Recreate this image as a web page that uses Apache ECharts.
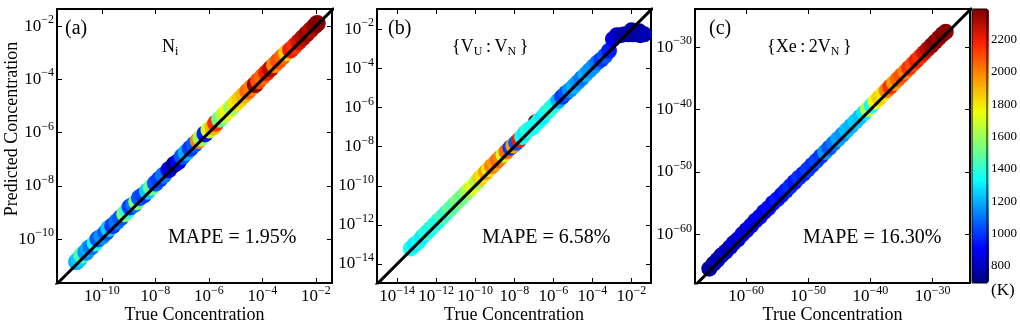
<!DOCTYPE html>
<html>
<head>
<meta charset="utf-8">
<script src="https://cdn.jsdelivr.net/npm/echarts@6.0.0/dist/echarts.min.js"></script>
<style>
  html, body { margin: 0; padding: 0; background: #fff; }
  #chart { width: 1020px; height: 324px; }
</style>
</head>
<body>
<div id="chart"></div>
<script>
// log10 of concentrations; temperature in K

// (a) N_i
const aTrue = [-10.95, -10.85, -10.75, -10.6, -10.5, -10.4, -10.25, -10.15, -10.0, -9.85, -9.75, -9.6, -9.45, -9.3,
  -9.15, -9.05, -8.95, -8.8, -8.7, -8.6, -8.45, -8.3, -8.15, -8.0, -7.85, -7.7, -7.5, -7.3, -7.15, -7.0, -6.85,
  -6.7, -6.55, -6.4, -6.3, -6.15, -6.0, -5.85, -5.75, -5.6, -5.45, -5.3, -5.15, -5.0, -4.85, -4.7, -4.55, -4.4,
  -4.27, -4.15, -4.0, -3.85, -3.7, -3.55, -3.4, -3.25, -3.1, -2.95, -2.8, -2.65, -2.5, -2.35, -2.2, -2.05, -1.95];
const aPred = [-10.85, -10.75, -10.6, -10.5, -10.35, -10.3, -10.15, -10.0, -9.9, -9.75, -9.6, -9.5, -9.35, -9.2,
  -9.05, -8.95, -8.8, -8.7, -8.6, -8.45, -8.35, -8.2, -8.05, -7.9, -7.75, -7.6, -7.4, -7.2, -7.1, -6.9, -6.75,
  -6.6, -6.45, -6.3, -6.2, -6.05, -5.9, -5.8, -5.65, -5.5, -5.35, -5.2, -5.05, -4.9, -4.75, -4.6, -4.45, -4.3,
  -4.2, -4.05, -3.9, -3.75, -3.6, -3.45, -3.3, -3.15, -3.0, -2.9, -2.75, -2.6, -2.45, -2.3, -2.15, -2.0, -1.9];
const aTemp = [1200, 1250, 1450, 1150, 1200, 1100, 1350, 1050, 1150, 1050, 1250, 1000, 1100, 1050,
  1550, 1400, 1000, 1100, 1550, 1050, 1000, 1250, 1500, 1050, 1000, 1100, 850, 720, 900, 1050, 1200,
  1000, 1050, 2000, 1600, 950, 1700, 1900, 2150, 1500, 1650, 1750, 1600, 1800, 1850, 1900, 2050, 2000,
  2350, 2100, 2050, 2200, 2300, 2000, 2100, 2050, 1850, 2200, 2150, 2250, 2300, 2350, 2300, 2350, 2380];

// (b) {V_U:V_N}
const bTrue = [-13.3, -13.1, -12.9, -12.7, -12.5, -12.3, -12.1, -11.9, -11.7, -11.5, -11.3, -11.1, -10.9, -10.7,
  -10.5, -10.3, -10.1, -9.9, -9.75, -9.6, -9.45, -9.3, -9.15, -9.0, -8.85, -8.7, -8.55, -8.4, -8.2, -8.05, -7.9,
  -7.75, -7.6, -7.45, -7.3, -7.1, -6.9, -7.0, -6.75, -6.55, -6.35, -6.15, -5.95, -5.75, -5.55, -5.35, -5.15,
  -4.95, -4.75, -4.55, -4.35, -4.15, -3.95, -3.75, -3.55, -3.35, -3.15, -2.95, -2.75, -2.55, -2.35, -2.15,
  -2.0, -1.95, -1.75, -1.6, -1.55, -1.35];
const bPred = [-13.2, -13.0, -12.85, -12.6, -12.4, -12.2, -12.0, -11.8, -11.6, -11.4, -11.2, -11.0, -10.8, -10.6,
  -10.4, -10.2, -10.0, -9.8, -9.6, -9.45, -9.3, -9.15, -9.0, -8.85, -8.7, -8.55, -8.4, -8.25, -8.05, -7.95, -7.8,
  -7.65, -7.5, -7.3, -7.15, -7.05, -6.75, -6.95, -6.7, -6.5, -6.25, -6.05, -5.85, -5.65, -5.45, -5.25, -5.1,
  -4.9, -4.7, -4.5, -4.3, -4.1, -3.9, -3.7, -3.55, -3.35, -3.1, -2.5, -2.3, -2.3, -2.25, -2.25,
  -2.05, -2.25, -2.25, -2.1, -2.3, -2.25];
const bTemp = [1350, 1300, 1350, 1300, 1400, 1350, 1400, 1350, 1450, 1400, 1500, 1450, 1550, 1500,
  1550, 1650, 1750, 1600, 1850, 1800, 1950, 1800, 2000, 1950, 2050, 2000, 1700, 2050, 1000, 1950, 1050,
  2200, 1350, 1300, 1400, 1350, 2380, 1350, 1350, 1300, 1350, 1400, 1350, 1200, 1000, 1050, 1150,
  1200, 1150, 1100, 1200, 1150, 1150, 1100, 1000, 1050, 950, 880, 800, 780, 760, 750,
  760, 740, 750, 740, 760, 780];

// (c) {Xe:2V_N}
const cTrue = [-65.9, -65.2, -64.6, -64.0, -63.3, -62.6, -62.0, -61.3, -60.6, -59.9, -59.2, -58.5, -57.8, -57.1,
  -56.4, -55.7, -55.0, -54.3, -53.6, -52.9, -52.2, -51.5, -50.8, -50.1, -49.4, -48.7, -48.0, -47.3, -46.6,
  -45.9, -45.2, -44.5, -43.8, -43.1, -42.4, -41.7, -41.0, -40.4, -39.8, -39.2, -38.6, -38.0, -37.4, -36.8,
  -36.2, -35.6, -35.0, -34.4, -33.8, -33.2, -32.6, -32.0, -31.4, -30.8, -30.2, -29.6, -29.0, -28.4, -27.9];
const cPred = [-65.5, -64.7, -64.1, -63.4, -62.8, -62.1, -61.4, -60.8, -60.0, -59.3, -58.6, -57.8, -57.2, -56.4,
  -55.8, -55.0, -54.4, -53.7, -53.0, -52.3, -51.6, -50.9, -50.3, -49.6, -48.9, -48.2, -47.5, -46.8, -46.1,
  -45.4, -44.7, -44.0, -43.3, -42.6, -41.9, -41.2, -40.5, -39.9, -39.3, -38.7, -38.1, -37.5, -36.9, -36.3,
  -35.7, -35.1, -34.5, -33.9, -33.3, -32.7, -32.1, -31.5, -30.9, -30.3, -29.7, -29.1, -28.5, -27.9, -27.5];
const cTemp = [760, 740, 800, 760, 820, 780, 850, 800, 870, 820, 880, 850, 900, 870,
  920, 900, 950, 920, 950, 980, 940, 990, 960, 1000, 980, 1020, 990, 1150, 1050,
  1100, 1180, 1150, 1220, 1200, 1250, 1230, 1300, 1650, 1350, 1750, 1850, 1800, 2000, 2150,
  1950, 2050, 2100, 2000, 2150, 2100, 2200, 2150, 2250, 2300, 2350, 2380, 2350, 2390, 2370];

// axis ranges (log10) and tick exponents
const aXRange = [-11.68, -1.4], aYRange = [-11.65, -1.36];
const bXRange = [-15.03, -1.0], bYRange = [-14.97, -0.96];
const cXRange = [-68.2, -24.0], cYRange = [-67.8, -23.85];
const aTicks = [-10, -8, -6, -4, -2];
const bTicks = [-14, -12, -10, -8, -6, -4, -2];
const cTicks = [-60, -50, -40, -30];

// colour bar
const tempRange = [693, 2390];
const tempTicks = [800, 1000, 1200, 1400, 1600, 1800, 2000, 2200];

const mapeText = ['MAPE = 1.95%', 'MAPE = 6.58%', 'MAPE = 16.30%'];

const FONT = '"Liberation Serif", "DejaVu Serif", serif';
const jet = ['#00007f', '#0000ff', '#007fff', '#0affff', '#7dff7a', '#f0ff06', '#ff9600', '#ff2100', '#7f0000'];

const grids = [
  { left: 57, top: 9, width: 275, height: 274 },
  { left: 377, top: 9, width: 274, height: 274 },
  { left: 695, top: 9, width: 275, height: 274 }
];

const powLabel = {
  formatter: v => `{b|10}{s|\u2212${Math.abs(v)}}`,
  rich: {
    b: { fontFamily: FONT, fontSize: 17, lineHeight: 24, color: '#000' },
    s: { fontFamily: FONT, fontSize: 12, lineHeight: 12, verticalAlign: 'top', color: '#000' }
  }
};

function makeAxis(gi, range, ticks, pos) {
  const showLabel = pos === 'bottom' || pos === 'left';
  return {
    type: 'value',
    gridIndex: gi,
    position: pos,
    min: range[0],
    max: range[1],
    axisLine: { show: true, onZero: false, lineStyle: { color: '#000', width: 2 } },
    axisTick: { show: true, inside: true, length: 5, customValues: ticks, lineStyle: { color: '#000', width: 1 } },
    axisLabel: Object.assign({ show: showLabel, customValues: ticks, margin: pos === 'left' ? 3 : 2 }, powLabel),
    splitLine: { show: false }
  };
}

const xRanges = [aXRange, bXRange, cXRange];
const yRanges = [aYRange, bYRange, cYRange];
const tickSets = [aTicks, bTicks, cTicks];

const xAxes = [], yAxes = [];
for (let i = 0; i < 3; i++) {
  xAxes.push(makeAxis(i, xRanges[i], tickSets[i], 'bottom'));
  xAxes.push(makeAxis(i, xRanges[i], tickSets[i], 'top'));
  yAxes.push(makeAxis(i, yRanges[i], tickSets[i], 'left'));
  yAxes.push(makeAxis(i, yRanges[i], tickSets[i], 'right'));
}
// colour bar axis
xAxes.push({ type: 'value', gridIndex: 3, show: false, min: 0, max: 1 });
yAxes.push({
  type: 'value', gridIndex: 3, position: 'right', min: tempRange[0], max: tempRange[1],
  axisLine: { show: false },
  axisTick: { show: true, inside: false, length: 3, customValues: tempTicks, lineStyle: { color: '#000' } },
  axisLabel: { customValues: tempTicks, margin: 4, fontFamily: FONT, fontSize: 13, color: '#000', formatter: v => String(v) },
  splitLine: { show: false }
});

const trueSets = [aTrue, bTrue, cTrue];
const predSets = [aPred, bPred, cPred];
const tempSets = [aTemp, bTemp, cTemp];
const symSizes = [17, 16, 16];

const series = [];
for (let i = 0; i < 3; i++) {
  series.push({
    type: 'scatter',
    xAxisIndex: 2 * i,
    yAxisIndex: 2 * i,
    symbolSize: symSizes[i],
    itemStyle: { opacity: 1 },
    data: trueSets[i].map((v, k) => [v, predSets[i][k], tempSets[i][k]]),
    z: 2
  });
}
for (let i = 0; i < 3; i++) {
  const lo = Math.min(xRanges[i][0], yRanges[i][0]) - 1;
  const hi = Math.max(xRanges[i][1], yRanges[i][1]) + 1;
  series.push({
    type: 'line',
    xAxisIndex: 2 * i,
    yAxisIndex: 2 * i,
    symbol: 'none',
    clip: true,
    lineStyle: { color: '#000', width: 3 },
    data: [[lo, lo], [hi, hi]],
    z: 3
  });
}

function txt(x, y, text, size, extra) {
  return {
    type: 'text', x: x, y: y, silent: true,
    style: Object.assign({
      text: text, fontFamily: FONT, fontSize: size, fill: '#000',
      align: 'left', verticalAlign: 'middle', textAlign: 'left', textVerticalAlign: 'middle'
    }, extra || {})
  };
}

const subRich = {
  m: { fontFamily: FONT, fontSize: 18, lineHeight: 22, fill: '#000', color: '#000' },
  u: { fontFamily: FONT, fontSize: 12, lineHeight: 12, verticalAlign: 'bottom', fill: '#000', color: '#000' }
};

const graphics = [
  txt(12, 129, 'Predicted Concentration', 18, { align: 'center', textAlign: 'center' }),
  txt(65, 29, '(a)', 20),
  txt(388, 29, '(b)', 20),
  txt(709, 29, '(c)', 20),
  txt(162, 47, '{m|N}{u|i}', 18, { rich: subRich }),
  txt(452, 47, '{m|{V}{u|U}{m|\u2009:\u2009V}{u|N}{m|\u2009}}', 18, { rich: subRich }),
  txt(767, 47, '{m|{Xe\u2009:\u20092V}{u|N}{m|\u2009}}', 18, { rich: subRich }),
  txt(168, 238, mapeText[0], 20),
  txt(482, 238, mapeText[1], 20),
  txt(803, 238, mapeText[2], 20),
  txt(194.5, 315, 'True Concentration', 18, { align: 'center', textAlign: 'center' }),
  txt(514, 315, 'True Concentration', 18, { align: 'center', textAlign: 'center' }),
  txt(832.5, 315, 'True Concentration', 18, { align: 'center', textAlign: 'center' }),
  txt(991, 291, '(K)', 17)
];
graphics[0].rotation = Math.PI / 2;

const myChart = echarts.init(document.getElementById('chart'), null, { renderer: 'canvas' });
myChart.setOption({
  animation: false,
  backgroundColor: '#fff',
  grid: grids.concat([{ left: 972, top: 9, width: 17, height: 274, show: true, borderColor: '#000', borderWidth: 1, backgroundColor: 'transparent', z: 10 }]),
  xAxis: xAxes,
  yAxis: yAxes,
  visualMap: {
    type: 'continuous',
    min: tempRange[0],
    max: tempRange[1],
    dimension: 2,
    seriesIndex: [0, 1, 2],
    inRange: { color: jet },
    left: 972,
    top: 9,
    itemWidth: 17,
    itemHeight: 274,
    padding: 0,
    calculable: false,
    hoverLink: false
  },
  series: series,
  graphic: graphics
});
</script>
</body>
</html>
